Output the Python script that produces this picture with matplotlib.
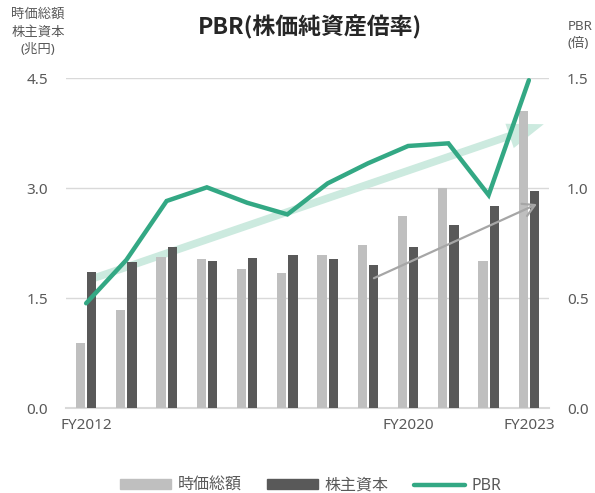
import matplotlib
matplotlib.use("Agg")
import matplotlib.pyplot as plt
from matplotlib.patches import Patch
from matplotlib.lines import Line2D
import numpy as np

plt.rcParams['font.family'] = ['Noto Sans', 'Noto Sans CJK JP', 'DejaVu Sans']

years = ["FY2012", "FY2013", "FY2014", "FY2015", "FY2016", "FY2017",
         "FY2018", "FY2019", "FY2020", "FY2021", "FY2022", "FY2023"]
tick_labels = ["FY2012", "", "", "", "", "", "", "", "FY2020", "", "", "FY2023"]
market_cap = [0.88, 1.33, 2.06, 2.03, 1.90, 1.84, 2.08, 2.22, 2.62, 3.00, 2.01, 4.05]
equity = [1.85, 1.99, 2.19, 2.01, 2.04, 2.08, 2.03, 1.95, 2.20, 2.50, 2.76, 2.96]
pbr = [0.476, 0.673, 0.941, 1.003, 0.933, 0.880, 1.021, 1.112, 1.191, 1.203, 0.968, 1.49]

TXT = '#595959'
GRID = '#D9D9D9'
LIGHT = '#BFBFBF'
DARK = '#595959'
GREEN = '#33A884'

fig = plt.figure(figsize=(5.95, 4.93), dpi=100)
ax = fig.add_axes([66/595, 1-408/493, (549-66)/595, (408-78)/493])
ax2 = ax.twinx()

x = np.arange(len(years))
w = 0.23
ax.bar(x - 0.14, market_cap, width=w, color=LIGHT, zorder=3)
ax.bar(x + 0.14, equity, width=w, color=DARK, zorder=3)

# trend arrow (background)
ax.annotate('', xy=(11.37, 3.87), xytext=(0.14, 1.76), xycoords='data',
            arrowprops=dict(arrowstyle='simple,head_length=2.6,head_width=1.85,tail_width=0.55',
                            mutation_scale=10, color='#CCEADF', lw=0, shrinkA=0, shrinkB=0),
            zorder=2)

ax.set_xlim(-0.5, len(years) - 0.5)
ax.set_ylim(0, 4.5)
ax.set_yticks([0, 1.5, 3.0, 4.5])
ax.set_yticklabels([f"{v:.1f}" for v in [0, 1.5, 3.0, 4.5]])
ax.set_xticks(x)
ax.set_xticklabels(tick_labels)
ax.yaxis.grid(True, color=GRID, lw=1, zorder=0)
ax.set_axisbelow(True)
for s in ['top', 'right', 'left']:
    ax.spines[s].set_visible(False)
ax.spines['bottom'].set_color(GRID)
ax.spines['bottom'].set_linewidth(1.5)
ax.tick_params(axis='both', length=0, labelsize=11, labelcolor=TXT)
ax.tick_params(axis='y', pad=13)
ax.tick_params(axis='x', pad=7)

ax2.plot(x, pbr, color=GREEN, lw=3.2, zorder=5, solid_joinstyle='miter', solid_capstyle='round')
ax2.set_ylim(0, 1.5)
ax2.set_yticks([0, 0.5, 1.0, 1.5])
ax2.set_yticklabels([f"{v:.1f}" for v in [0, 0.5, 1.0, 1.5]])
for s in ['top', 'right', 'left', 'bottom']:
    ax2.spines[s].set_visible(False)
ax2.tick_params(axis='y', length=0, labelsize=11, labelcolor=TXT, pad=13)

ax2.annotate('', xy=(11.2, 2.78 / 3), xytext=(7.15, 1.77 / 3), xycoords='data',
             arrowprops=dict(arrowstyle='->,head_length=0.7,head_width=0.4',
                             mutation_scale=12, color='#A6A6A6', lw=1.6,
                             shrinkA=0, shrinkB=0),
             zorder=6)

fig.text(310/595, 1-27/493, "PBR(株価純資産倍率)", ha='center', va='center',
         fontsize=16.5, fontweight='bold', color='#262626',
         family=['Noto Sans CJK JP', 'DejaVu Sans'])
fig.text(38/595, 1-32/493, "時価総額\n株主資本\n(兆円)", ha='center', va='center',
         fontsize=9.6, color=TXT, linespacing=1.45)
fig.text(568/595, 1-35/493, "PBR\n(倍)", ha='left', va='center',
         fontsize=9.6, color=TXT, linespacing=1.45)

handles = [Patch(color=LIGHT), Patch(color=DARK), Line2D([], [], color=GREEN, lw=3.2, solid_capstyle='round')]
fig.legend(handles, ["時価総額", "株主資本", "PBR"], loc='center', bbox_to_anchor=(311/595, 1-486/493),
           ncol=3, frameon=False, fontsize=11.5, labelcolor=TXT, handlelength=3.2,
           handleheight=0.6, handletextpad=0.4, columnspacing=1.6)

fig.savefig("out.png", dpi=100)
